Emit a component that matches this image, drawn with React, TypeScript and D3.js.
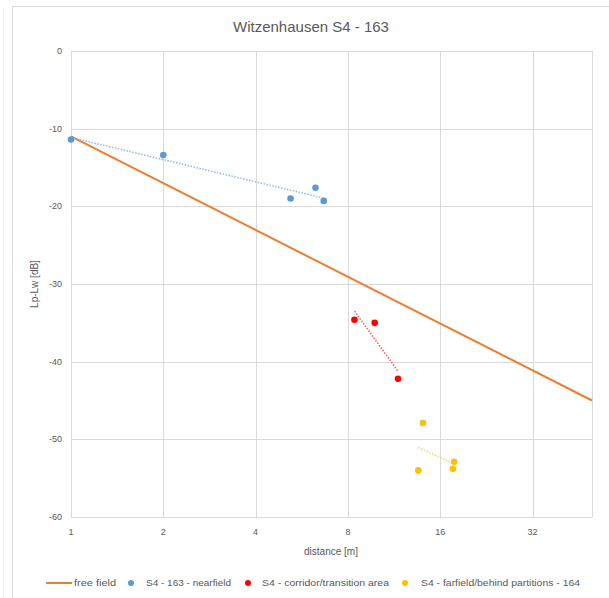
import React from 'react'
import * as d3 from 'd3'

// free field reference line
const freeFieldDistance = [1, 50]
const freeFieldLevel = [-11, -45]

const nearDistance = [1.0, 2.0, 5.2, 6.27, 6.67]
const nearLevel = [-11.4, -13.4, -19.0, -17.6, -19.3]

const corridorDistance = [8.4, 9.78, 11.65]
const corridorLevel = [-34.6, -35.0, -42.2]

const farDistance = [14.05, 13.57, 17.77, 17.6]
const farLevel = [-47.9, -54.0, -52.9, -53.8]

const xTicks = [1, 2, 4, 8, 16, 32]
const yTicks = [0, -10, -20, -30, -40, -50, -60]

const W = 609
const H = 598
const left = 71
const right = 592
const top = 51
const bottom = 517

const font = '"Liberation Sans", Arial, sans-serif'
const grey = '#595959'
const grid = '#d9d9d9'

// log trendline like excel does it: fit y on log(x)
function trend(xs: number[], ys: number[]) {
  const lx = xs.map(v => Math.log2(v))
  const mx = d3.mean(lx) as number
  const my = d3.mean(ys) as number
  let sxy = 0
  let sxx = 0
  lx.forEach((v, i) => {
    sxy += (v - mx) * (ys[i] - my)
    sxx += (v - mx) * (v - mx)
  })
  const slope = sxy / sxx
  const x0 = d3.min(xs) as number
  const x1 = d3.max(xs) as number
  const f = (x: number) => my + slope * (Math.log2(x) - mx)
  return [
    [x0, f(x0)],
    [x1, f(x1)],
  ]
}

const App = () => {
  const x = d3.scaleLog().base(2).domain([1, 50]).range([left, right])
  const y = d3.scaleLinear().domain([-60, 0]).range([bottom, top])
  const line = d3
    .line<number[]>()
    .x(d => x(d[0]))
    .y(d => y(d[1]))

  const series = [
    { xs: nearDistance, ys: nearLevel, color: '#5b9bd5', trendColor: '#8fb9e3', name: 'S4 - 163 - nearfield' },
    { xs: corridorDistance, ys: corridorLevel, color: '#ff0000', trendColor: '#ff5a5a', name: 'S4 - corridor/transition area' },
    { xs: farDistance, ys: farLevel, color: '#ffc000', trendColor: '#ffd45a', name: 'S4 - farfield/behind partitions - 164' },
  ]

  const legendMarkers = [131, 248, 405]
  const legendText = [146, 262, 421]
  const legendWidths = [85, 127, 159]

  return (
    <svg width={W} height={H} style={{ position: 'absolute', left: 0, top: 0 }} fontFamily={font}>
      <rect width={W} height={H} fill="#fff" />
      <line x1={3.5} x2={3.5} y1={8} y2={H} stroke="#ededed" />
      <rect x={12.5} y={6.5} width={700} height={700} fill="none" stroke={grid} />

      <text x={311} y={32} textAnchor="middle" fontSize={15} fill={grey}>
        Witzenhausen S4 - 163
      </text>

      {yTicks.map(t => (
        <g key={t}>
          <line x1={left} x2={right} y1={Math.round(y(t)) + 0.5} y2={Math.round(y(t)) + 0.5} stroke={grid} />
          <text x={62} y={y(t) + 3} textAnchor="end" fontSize={9} fill={grey}>
            {t}
          </text>
        </g>
      ))}
      {xTicks.map(t => (
        <g key={t}>
          <line x1={Math.round(x(t)) + 0.5} x2={Math.round(x(t)) + 0.5} y1={top} y2={bottom} stroke={grid} />
          <text x={x(t)} y={535} textAnchor="middle" fontSize={9} fill={grey}>
            {t}
          </text>
        </g>
      ))}
      <line x1={right + 0.5} x2={right + 0.5} y1={top} y2={bottom} stroke={grid} />

      <text x={331} y={555} textAnchor="middle" fontSize={10} fill={grey}>
        distance [m]
      </text>
      <text transform={`translate(38, ${(top + bottom) / 2}) rotate(-90)`} textAnchor="middle" fontSize={10} fill={grey}>
        Lp-Lw [dB]
      </text>

      <path
        d={line(freeFieldDistance.map((d, i) => [d, freeFieldLevel[i]])) as string}
        fill="none"
        stroke="#ed7d31"
        strokeWidth={2}
      />

      {series.map(s => (
        <g key={s.name}>
          <path
            d={line(trend(s.xs, s.ys)) as string}
            fill="none"
            stroke={s.trendColor}
            strokeWidth={1.5}
            strokeDasharray="1.5,1.5"
          />
          {s.xs.map((d, i) => (
            <circle key={i} cx={x(d)} cy={y(s.ys[i])} r={3.3} fill={s.color} />
          ))}
        </g>
      ))}

      {/* legend */}
      <line x1={46} x2={72} y1={583} y2={583} stroke="#ed7d31" strokeWidth={2} />
      <text x={74} y={586} fontSize={9} fill={grey} textLength={42} lengthAdjust="spacingAndGlyphs">
        free field
      </text>
      {series.map((s, i) => (
        <g key={s.name}>
          <circle cx={legendMarkers[i]} cy={583} r={3} fill={s.color} />
          <text
            x={legendText[i]}
            y={586}
            fontSize={9}
            fill={grey}
            textLength={legendWidths[i]}
            lengthAdjust="spacingAndGlyphs"
          >
            {s.name}
          </text>
        </g>
      ))}
    </svg>
  )
}

export default App
